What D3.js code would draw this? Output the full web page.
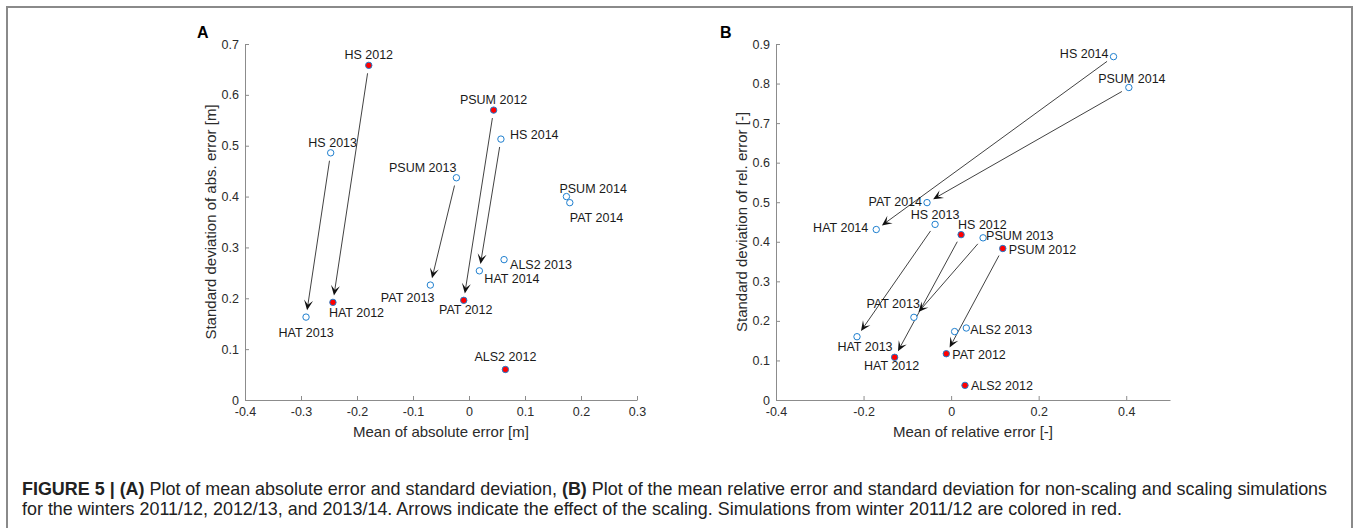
<!DOCTYPE html>
<html>
<head>
<meta charset="utf-8">
<script src="https://cdn.jsdelivr.net/npm/d3@7"></script>
<style>
  body { margin: 0; background: #fff; }
  svg { display: block; font-family: "Liberation Sans", Arial, Helvetica, sans-serif; }
</style>
</head>
<body>
<svg id="fig" width="1357" height="528"></svg>
<script>
// panel A: mean / std of absolute error
const namesA = ["HS 2012", "HS 2013", "HS 2014", "HAT 2012", "HAT 2013", "HAT 2014",
  "PSUM 2012", "PSUM 2013", "PSUM 2014", "PAT 2012", "PAT 2013", "PAT 2014", "ALS2 2012", "ALS2 2013"];
const meanA = [-0.179, -0.247, 0.057, -0.243, -0.291, 0.0185, 0.044, -0.0225, 0.174, -0.0094, -0.069, 0.180, 0.065, 0.0626];
const sdA = [0.658, 0.486, 0.513, 0.192, 0.163, 0.254, 0.570, 0.437, 0.400, 0.196, 0.226, 0.388, 0.060, 0.276];
const arrowsA = [["HS 2012", "HAT 2012"], ["HS 2013", "HAT 2013"], ["HS 2014", "HAT 2014"],
  ["PSUM 2012", "PAT 2012"], ["PSUM 2013", "PAT 2013"]];
const xTicksA = [-0.4, -0.3, -0.2, -0.1, 0, 0.1, 0.2, 0.3];
const yTicksA = [0, 0.1, 0.2, 0.3, 0.4, 0.5, 0.6, 0.7];

// panel B: mean / std of relative error (last point has no label in the figure)
const namesB = ["HS 2012", "HS 2013", "HS 2014", "HAT 2012", "HAT 2013", "HAT 2014",
  "PSUM 2012", "PSUM 2013", "PSUM 2014", "PAT 2012", "PAT 2013", "PAT 2014", "ALS2 2012", "ALS2 2013", ""];
const meanB = [0.0228, -0.0366, 0.371, -0.129, -0.215, -0.171, 0.118, 0.073, 0.406, -0.011, -0.085, -0.055, 0.0317, 0.0347, 0.008];
const sdB = [0.418, 0.444, 0.868, 0.108, 0.160, 0.431, 0.383, 0.410, 0.790, 0.117, 0.209, 0.499, 0.037, 0.182, 0.173];
const arrowsB = [["HS 2012", "HAT 2012"], ["HS 2013", "HAT 2013"], ["HS 2014", "HAT 2014"],
  ["PSUM 2012", "PAT 2012"], ["PSUM 2013", "PAT 2013"], ["PSUM 2014", "PAT 2014"]];
const xTicksB = [-0.4, -0.2, 0, 0.2, 0.4];
const yTicksB = [0, 0.1, 0.2, 0.3, 0.4, 0.5, 0.6, 0.7, 0.8, 0.9];

// label placement: [anchor, dx, dy]
const placeA = {
  "HS 2012": ["middle", 0, -6], "HS 2013": ["middle", 2, -6], "HS 2014": ["start", 9, 0],
  "HAT 2012": ["start", -4, 15], "HAT 2013": ["middle", 0, 20], "HAT 2014": ["start", 5, 12],
  "PSUM 2012": ["middle", 0, -6], "PSUM 2013": ["end", 0, -6], "PSUM 2014": ["start", -7, -4],
  "PAT 2012": ["middle", 2, 14], "PAT 2013": ["end", 4, 17], "PAT 2014": ["start", 0, 19],
  "ALS2 2012": ["middle", 0, -8], "ALS2 2013": ["start", 6, 9]
};
const placeB = {
  "HS 2012": ["start", -3, -6], "HS 2013": ["middle", 0, -5], "HS 2014": ["end", -5, 1],
  "HAT 2012": ["middle", -3, 13], "HAT 2013": ["middle", 8, 14], "HAT 2014": ["end", -8, 2],
  "PSUM 2012": ["start", 6, 5.5], "PSUM 2013": ["start", 3, 2.5], "PSUM 2014": ["middle", 3, -5],
  "PAT 2012": ["start", 6, 5], "PAT 2013": ["end", 6, -9], "PAT 2014": ["end", -5, 3],
  "ALS2 2012": ["start", 6, 5], "ALS2 2013": ["start", 4, 6]
};

const svg = d3.select("#fig");

// outer frame
svg.append("rect")
  .attr("x", 7).attr("y", 7).attr("width", 1345).attr("height", 560)
  .attr("fill", "none").attr("stroke", "#8a8a8a").attr("stroke-width", 2);

const fmt = d => String(Math.round(d * 10) / 10);

function panel(opt) {
  const x = d3.scaleLinear().domain(opt.xDomain).range([opt.left, opt.right]);
  const y = d3.scaleLinear().domain(opt.yDomain).range([400, 44]);
  const g = svg.append("g");

  const gx = g.append("g").attr("transform", "translate(0,400)")
    .call(d3.axisBottom(x).tickValues(opt.xTicks).tickFormat(fmt).tickSizeInner(-4).tickSizeOuter(0).tickPadding(7));
  const gy = g.append("g").attr("transform", `translate(${opt.left},0)`)
    .call(d3.axisLeft(y).tickValues(opt.yTicks).tickFormat(fmt).tickSizeInner(-4).tickSizeOuter(0).tickPadding(6));
  [gx, gy].forEach(a => {
    a.select(".domain").attr("stroke", "#8c8c8c");
    a.selectAll(".tick line").attr("stroke", "#8c8c8c");
    a.selectAll("text").attr("fill", "#2b2b2b").style("font-size", "12.5px");
  });

  g.append("text").attr("x", (opt.left + opt.right) / 2).attr("y", 437)
    .attr("text-anchor", "middle").attr("fill", "#2b2b2b").style("font-size", "15px").text(opt.xLabel);
  g.append("text").attr("transform", `translate(${opt.yLabelX},222) rotate(-90)`)
    .attr("text-anchor", "middle").attr("fill", "#2b2b2b").style("font-size", "15px").text(opt.yLabel);
  g.append("text").attr("x", opt.letterX).attr("y", 38)
    .style("font-size", "16px").style("font-weight", "bold").text(opt.letter);

  const pts = opt.names.map((n, i) => ({ name: n, x: opt.mean[i], y: opt.sd[i] }));
  const byName = new Map(pts.map(p => [p.name, p]));

  // arrows
  opt.arrows.forEach(([from, to]) => {
    const a = byName.get(from), b = byName.get(to);
    const x0 = x(a.x), y0 = y(a.y), x1 = x(b.x), y1 = y(b.y);
    const len = Math.hypot(x1 - x0, y1 - y0);
    const ux = (x1 - x0) / len, uy = (y1 - y0) / len;
    const sx = x0 + ux * 8, sy = y0 + uy * 8;
    const tx = x1 - ux * 7, ty = y1 - uy * 7;
    g.append("line").attr("x1", sx).attr("y1", sy).attr("x2", tx - ux * 5).attr("y2", ty - uy * 5)
      .attr("stroke", "#111").attr("stroke-width", 0.8);
    const ang = Math.atan2(uy, ux) * 180 / Math.PI;
    g.append("path").attr("d", "M0,0L-10,-4.5L-5.5,0L-10,4.5Z")
      .attr("transform", `translate(${tx},${ty}) rotate(${ang})`).attr("fill", "#111");
  });

  // markers
  g.selectAll("circle.pt").data(pts).join("circle").attr("class", "pt")
    .attr("cx", d => x(d.x)).attr("cy", d => y(d.y)).attr("r", 3.2)
    .attr("fill", d => d.name.endsWith("2012") ? "#ff0000" : "#fff")
    .attr("stroke", "#1f7fcf").attr("stroke-width", 1);

  // labels
  g.selectAll("text.lab").data(pts.filter(p => p.name)).join("text").attr("class", "lab")
    .attr("x", d => x(d.x) + opt.place[d.name][1])
    .attr("y", d => y(d.y) + opt.place[d.name][2])
    .attr("text-anchor", d => opt.place[d.name][0])
    .attr("fill", "#1a1a1a").style("font-size", "12.5px").text(d => d.name);
}

panel({
  names: namesA, mean: meanA, sd: sdA, arrows: arrowsA, place: placeA,
  xDomain: [-0.4, 0.3], yDomain: [0, 0.7], xTicks: xTicksA, yTicks: yTicksA,
  left: 245, right: 637, yLabelX: 216, letter: "A", letterX: 197,
  xLabel: "Mean of absolute error [m]", yLabel: "Standard deviation of abs. error [m]"
});
panel({
  names: namesB, mean: meanB, sd: sdB, arrows: arrowsB, place: placeB,
  xDomain: [-0.4, 0.5], yDomain: [0, 0.9], xTicks: xTicksB, yTicks: yTicksB,
  left: 776, right: 1170, yLabelX: 747, letter: "B", letterX: 720,
  xLabel: "Mean of relative error [-]", yLabel: "Standard deviation of rel. error [-]"
});

// caption
const cap = svg.append("g").attr("fill", "#222");
const line1 = cap.append("text").attr("x", 22).attr("y", 495).style("font-size", "14px");
line1.append("tspan").style("font-weight", "bold").text("FIGURE 5 | (A)");
line1.append("tspan").text(" Plot of mean absolute error and standard deviation, ");
line1.append("tspan").style("font-weight", "bold").text("(B)");
line1.append("tspan").text(" Plot of the mean relative error and standard deviation for non-scaling and scaling simulations");
const line2 = cap.append("text").attr("x", 22).attr("y", 515).style("font-size", "14px")
  .text("for the winters 2011/12, 2012/13, and 2013/14. Arrows indicate the effect of the scaling. Simulations from winter 2011/12 are colored in red.");
const w = line1.node().getComputedTextLength();
const fs = 14 * 1306 / w;
line1.style("font-size", fs + "px");
line2.style("font-size", fs + "px");
</script>
</body>
</html>
